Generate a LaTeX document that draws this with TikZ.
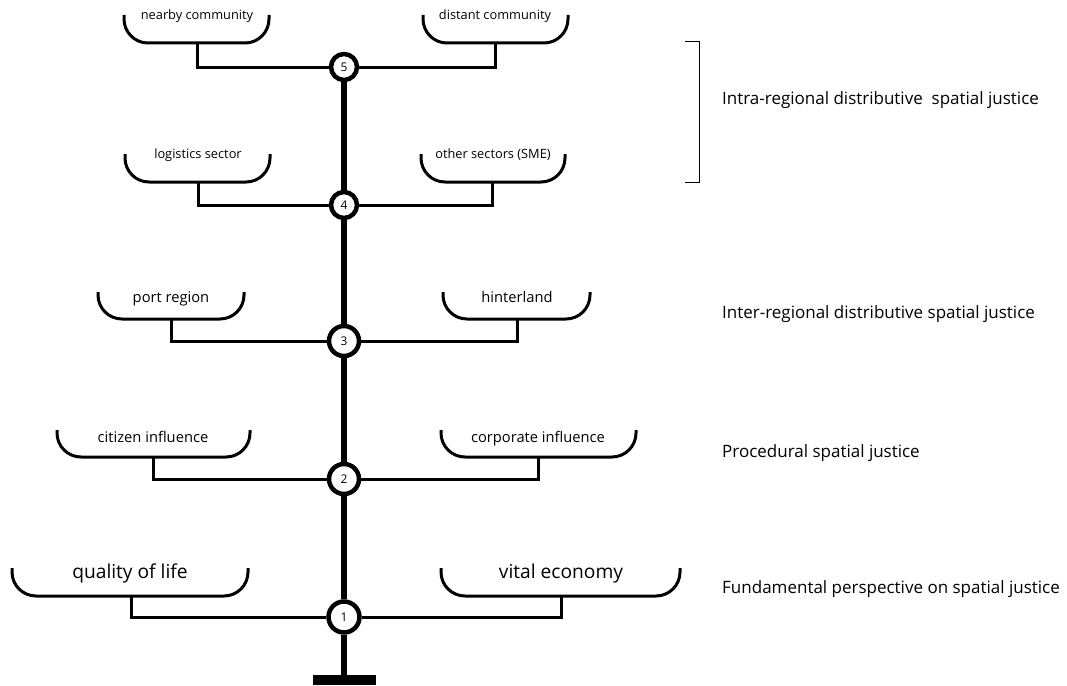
\documentclass[tikz,border=0pt]{standalone}
\usepackage{fontspec}
\setmainfont{Open Sans}
\usetikzlibrary{shapes.geometric}
\begin{document}
\begin{tikzpicture}[x=1pt,y=-1pt,
  hub/.style={circle,draw,line width=4.5pt,fill=white,inner sep=0pt,font=\fontsize{12}{14}\selectfont},
  trunk/.style={line width=5.5pt},
  branch/.style={line width=3pt},
  cup/.style={line width=3pt,rounded corners=24pt},
  small/.style={anchor=base,inner sep=0pt,font=\fontsize{12.8}{15}\selectfont},
  medium/.style={anchor=base,inner sep=0pt,font=\fontsize{14.7}{16}\selectfont},
  large/.style={anchor=base,inner sep=0pt,font=\fontsize{19.2}{21}\selectfont},
  level/.style={anchor=base west,inner sep=0pt,font=\fontsize{17}{19}\selectfont},
  bracket/.style={line width=1pt}
]
\useasboundingbox (0,0) rectangle (1067,685);

% hubs along the trunk
\node[hub,minimum size=26pt] (c5) at (344,67) {5};
\node[hub,minimum size=26pt] (c4) at (344,205) {4};
\node[hub,minimum size=30pt] (c3) at (344,341) {3};
\node[hub,minimum size=30pt] (c2) at (344,479) {2};
\node[hub,minimum size=31pt] (c1) at (344,617) {1};
\node[fill=black,minimum width=63pt,minimum height=10pt,inner sep=0pt] (base) at (344,680) {};

\draw[trunk] (c5) -- (c4);
\draw[trunk] (c4) -- (c3);
\draw[trunk] (c3) -- (c2);
\draw[trunk] (c2) -- (c1);
\draw[trunk] (c1) -- (base);

% cups with their labels and the points where the branches meet them
\draw[cup] (124,15) -- (124,43) -- (269,43) -- (269,15);
\coordinate (n5l) at (197,43);
\node[small] (t5l) at (197,20) {nearby community};
\draw[cup] (423,15) -- (423,43) -- (568,43) -- (568,15);
\coordinate (n5r) at (495,43);
\node[small] (t5r) at (495,20) {distant community};

\draw[cup] (125,154) -- (125,182) -- (270,182) -- (270,154);
\coordinate (n4l) at (198,182);
\node[small] (t4l) at (198,158) {logistics sector};
\draw[cup] (421,154) -- (421,182) -- (565,182) -- (565,154);
\coordinate (n4r) at (492,182);
\node[small] (t4r) at (493,158) {other sectors (SME)};

\draw[cup] (98,292) -- (98,319) -- (244,319) -- (244,292);
\coordinate (n3l) at (171,319);
\node[medium] (t3l) at (171,302) {port region};
\draw[cup] (443,292) -- (443,319) -- (590,319) -- (590,292);
\coordinate (n3r) at (517,319);
\node[medium] (t3r) at (517,302) {hinterland};

\draw[cup] (57,430) -- (57,457) -- (250,457) -- (250,430);
\coordinate (n2l) at (153,457);
\node[medium] (t2l) at (153,442) {citizen influence};
\draw[cup] (441,430) -- (441,457) -- (636,457) -- (636,430);
\coordinate (n2r) at (538,457);
\node[medium] (t2r) at (538,442) {corporate influence};

\draw[cup] (12,568) -- (12,596) -- (248,596) -- (248,568);
\coordinate (n1l) at (131,596);
\node[large] (t1l) at (130,578) {quality of life};
\draw[cup] (441,568) -- (441,596) -- (680,596) -- (680,568);
\coordinate (n1r) at (561,596);
\node[large] (t1r) at (561,578) {vital economy};

% branches from each hub to its two cups
\draw[branch] (c5) -| (n5l);
\draw[branch] (c5) -| (n5r);
\draw[branch] (c4) -| (n4l);
\draw[branch] (c4) -| (n4r);
\draw[branch] (c3) -| (n3l);
\draw[branch] (c3) -| (n3r);
\draw[branch] (c2) -| (n2l);
\draw[branch] (c2) -| (n2r);
\draw[branch] (c1) -| (n1l);
\draw[branch] (c1) -| (n1r);

% level labels
\coordinate (bt) at (685,42);
\coordinate (bb) at (685,182);
\draw[bracket] (bt) -- ++(14,0) |- (bb);
\node[level] (l45) at (722,104) {Intra-regional distributive\ \ spatial justice};
\node[level] (l3) at (722,318) {Inter-regional distributive spatial justice};
\node[level] (l2) at (722,457) {Procedural spatial justice};
\node[level] (l1) at (722,593) {Fundamental perspective on spatial justice};
\end{tikzpicture}
\end{document}
